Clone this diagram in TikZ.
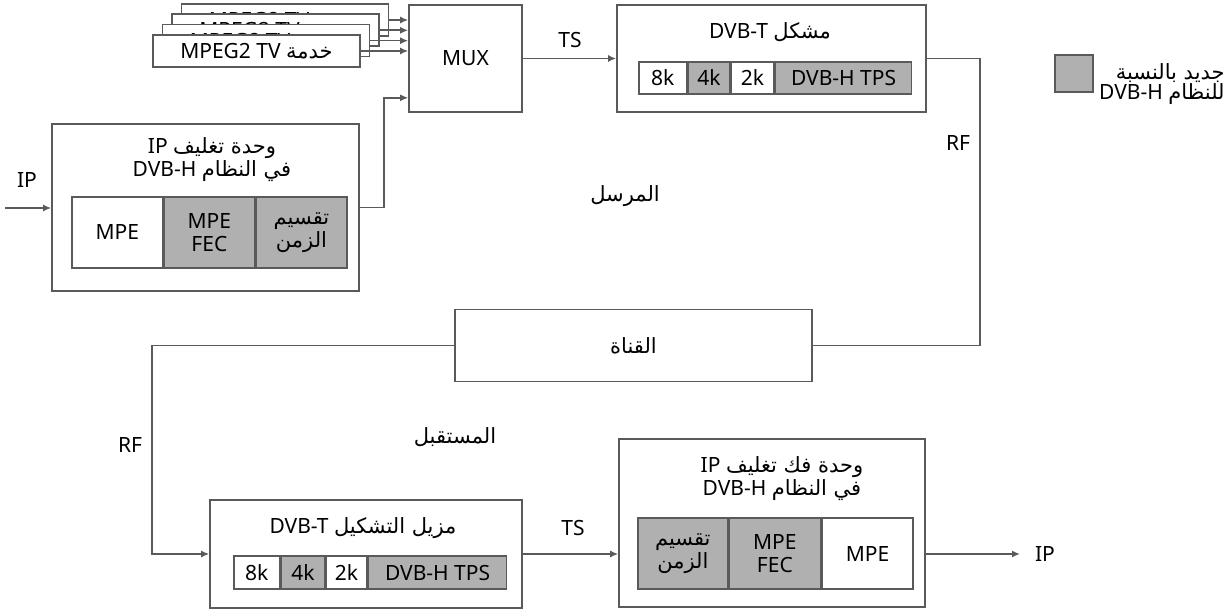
\documentclass[tikz,border=0pt]{standalone}
\usepackage{fontspec}
\setmainfont{Noto Sans}
\newfontfamily\arabicfont[Script=Arabic]{DejaVu Sans}
\TeXXeTstate=1
\usetikzlibrary{positioning, arrows.meta}
\definecolor{linegrey}{HTML}{5A5A5A}
\definecolor{newgrey}{HTML}{B0B0B0}
\newcommand{\ar}[1]{{\arabicfont #1}}
\newcommand{\rtl}[1]{\beginR #1\endR}
\newcommand{\ltr}[1]{\beginL #1\endL{}}

\begin{document}
\begin{tikzpicture}[x=0.5pt, y=-0.5pt, >={Latex[length=4pt,width=3.5pt]},
  every node/.style={font=\fontsize{10.5}{11.5}\selectfont, inner sep=0pt},
  box/.style={draw=linegrey, line width=0.8pt, fill=white},
  cell/.style={box, minimum height=#1},
  newcell/.style={cell=#1, fill=newgrey},
  link/.style={draw=linegrey, line width=0.8pt}]
   \useasboundingbox (0,0) rectangle (1231,610);

   % 发送端：MPEG2 TV 服务（从后往前）
   \foreach \i/\cx/\cy in {4/285/20, 3/275.5/30.3, 2/266/40.7, 1/256.5/51}
     \node[box, minimum width=103.5pt, minimum height=16pt] (svc\i) at (\cx,\cy) {\rtl{\ar{خدمة} \ltr{MPEG2 TV}}};
   \node[box, minimum width=56.5pt, minimum height=53.5pt] (mux) at (465.5,58.5) {MUX};

   % IP 封装单元
   \node[box, minimum width=153.5pt, minimum height=83.5pt] (enc) at (205.5,207.5) {};
   \node[align=center] (enctitle) at (212,160) {\rtl{\ar{وحدة تغليف} IP}\\\rtl{\ar{في النظام} \ltr{DVB-H}}};
   \node[cell=35.5pt, minimum width=45.5pt, anchor=west] (encmpe) at (71,232.5) {MPE};
   \node[newcell=35.5pt, minimum width=45pt, align=center, right=0pt of encmpe] (encfec) {MPE\\FEC};
   \node[newcell=35.5pt, minimum width=45.5pt, align=center, right=0pt of encfec] (encslice) {\rtl{\ar{تقسيم}}\\\rtl{\ar{الزمن}}};

   % DVB-T 调制器
   \node[box, minimum width=154.5pt, minimum height=53.5pt] (mod) at (771.5,58.5) {};
   \node (modtitle) at (770,32) {\rtl{\ar{مشكل} \ltr{DVB-T}}};
   \node[cell=16pt, minimum width=24pt, anchor=west] (mod8k) at (638,78) {8k};
   \node[newcell=16pt, minimum width=20.5pt, right=0pt of mod8k] (mod4k) {4k};
   \node[cell=16pt, minimum width=21.5pt, right=0pt of mod4k] (mod2k) {2k};
   \node[newcell=16pt, minimum width=68pt, right=0pt of mod2k] (modtps) {DVB-H TPS};

   % 信道
   \node[box, minimum width=178.5pt, minimum height=36pt] (chan) at (633.5,345.5) {\rtl{\ar{القناة}}};

   % 接收端：DVB-T 解调器
   \node[box, minimum width=156pt, minimum height=54pt] (demod) at (366,554) {};
   \node (demodtitle) at (363,528) {\rtl{\ar{مزيل التشكيل} \ltr{DVB-T}}};
   \node[cell=16.5pt, minimum width=23pt, anchor=west] (dem8k) at (233,572.5) {8k};
   \node[newcell=16.5pt, minimum width=21.5pt, right=0pt of dem8k] (dem4k) {4k};
   \node[cell=16.5pt, minimum width=20.5pt, right=0pt of dem4k] (dem2k) {2k};
   \node[newcell=16.5pt, minimum width=69pt, right=0pt of dem2k] (demtps) {DVB-H TPS};

   % IP 解封装单元
   \node[box, minimum width=153pt, minimum height=84pt] (decap) at (772,523) {};
   \node[align=center] (decaptitle) at (782,479) {\rtl{\ar{وحدة فك تغليف} IP}\\\rtl{\ar{في النظام} \ltr{DVB-H}}};
   \node[newcell=35.5pt, minimum width=45pt, align=center, anchor=west] (decslice) at (637,553.5) {\rtl{\ar{تقسيم}}\\\rtl{\ar{الزمن}}};
   \node[newcell=35.5pt, minimum width=45.5pt, align=center, right=0pt of decslice] (decfec) {MPE\\FEC};
   \node[cell=35.5pt, minimum width=45.5pt, right=0pt of decfec] (decmpe) {MPE};

   % 图例
   \node[newcell=18.5pt, minimum width=19pt] (legkey) at (1074,73.5) {};
   \node[anchor=east, align=right, font=\fontsize{10.5}{10}\selectfont] (legtext) at (1225,84) {\rtl{\ar{جديد بالنسبة}}\\\rtl{\ar{للنظام} \ltr{DVB-H}}};

   % 连接
   \coordinate (ipin) at (5,208);
   \coordinate (ipout) at (1020,554);
   \foreach \i in {1,...,4}
     \draw[link, ->] (svc\i.east) -- (svc\i.east -| mux.west);
   \draw[link, ->] (ipin) -- (ipin -| enc.west);
   \draw[link, ->] (enc.east) -- ++(24,0) |- ([yshift=7.5pt]mux.south west);
   \draw[link, ->] (mux.east) -- (mod.west);
   \draw[link] (mod.east) -- ++(53,0) |- (chan.east);
   \draw[link, ->] (chan.west) -- ++(-302,0) |- (demod.west);
   \draw[link, ->] (demod.east) -- (demod.east -| decap.west);
   \draw[link, ->] (ipout -| decap.east) -- (ipout);

   % 标签
   \node (lip1) at (27,180) {IP};
   \node (lts1) at (570,40) {TS};
   \node (lrf1) at (958,143) {RF};
   \node (ltx) at (625,196) {\rtl{\ar{المرسل}}};
   \node (lrx) at (455,437) {\rtl{\ar{المستقبل}}};
   \node (lrf2) at (130,445) {RF};
   \node (lts2) at (573,528) {TS};
   \node (lip2) at (1045,554) {IP};
\end{tikzpicture}
\end{document}
